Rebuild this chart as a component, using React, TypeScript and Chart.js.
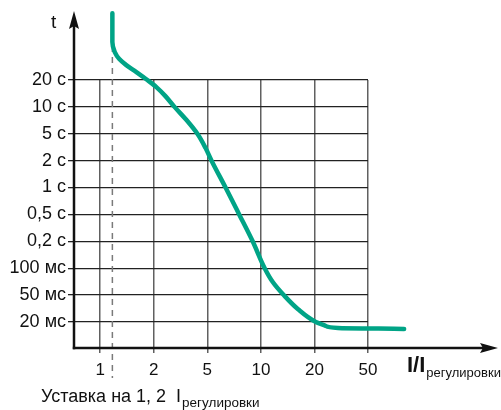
import React, { useEffect, useRef } from "react";
import { Chart, registerables } from "chart.js";

Chart.register(...registerables);

// ---- data ----
const X_TICK_VALUES = [1, 2, 5, 10, 20, 50];
const X_TICK_LABELS = ["1", "2", "5", "10", "20", "50"];
const Y_TICK_VALUES = [0.02, 0.05, 0.1, 0.2, 0.5, 1, 2, 5, 10, 20];
const Y_TICK_LABELS = ["20 мс", "50 мс", "100 мс", "0,2 с", "0,5 с", "1 с", "2 с", "5 с", "10 с", "20 с"];

// current multiple I/I_reg
const CURRENT = [1.17, 1.17, 1.207, 1.28, 1.401, 1.596, 1.84, 2.09, 2.44, 2.85, 3.5, 4.23, 4.85, 5.28, 6.33, 7.55, 8.99, 10.5, 11.66, 13.44, 16.12, 20.48, 24.3, 29.9, 79.8];
// trip time, seconds
const TIME = [140, 66.4, 51.3, 40.8, 33.2, 26.2, 20, 16.66, 13.2, 10, 7.12, 4.95, 3.07, 2, 1, 0.5, 0.2, 0.1, 0.07, 0.05, 0.0311, 0.02, 0.01804, 0.01714, 0.0167];

const SETTING = 1.17; // "Уставка на 1,2"

const X_TITLE = "I/I";
const X_TITLE_SUB = "регулировки";
const Y_TITLE = "t";
const NOTE = "Уставка на 1, 2  I";
const NOTE_SUB = "регулировки";

// position on a 1-2-5 grid (equal spacing between 1, 2, 5, 10 ...)
function pos125(v: number): number {
  const d = Math.floor(Math.log10(v) + 1e-9);
  const m = v / Math.pow(10, d);
  let f: number;
  if (m < 2) f = Math.log(m) / Math.log(2);
  else if (m < 5) f = 1 + Math.log(m / 2) / Math.log(2.5);
  else f = 2 + Math.log(m / 5) / Math.log(2);
  return 3 * d + f;
}
const xPos = (v: number) => pos125(v) - pos125(X_TICK_VALUES[0]);
const yPos = (v: number) => pos125(v) - pos125(Y_TICK_VALUES[0]);

const FONT = '"Liberation Sans", Arial, sans-serif';

const decor = {
  id: "decor",
  beforeDatasetsDraw(chart: any) {
    const { ctx, chartArea, scales } = chart;
    const x = scales.x.getPixelForValue(xPos(SETTING));
    ctx.save();
    ctx.strokeStyle = "#7a7a7a";
    ctx.lineWidth = 1.5;
    ctx.setLineDash([6, 5]);
    ctx.beginPath();
    ctx.moveTo(x, chartArea.top - 34);
    ctx.lineTo(x, chartArea.bottom + 30);
    ctx.stroke();
    ctx.restore();
  },
  afterDraw(chart: any) {
    const { ctx, chartArea } = chart;
    const L = chartArea.left;
    const B = chartArea.bottom;
    ctx.save();
    ctx.strokeStyle = "#111";
    ctx.fillStyle = "#111";
    ctx.lineWidth = 2.5;
    // y axis
    ctx.beginPath();
    ctx.moveTo(L, B + 1.2);
    ctx.lineTo(L, 24);
    ctx.stroke();
    ctx.beginPath();
    ctx.moveTo(L, 11);
    ctx.lineTo(L + 5, 29);
    ctx.lineTo(L, 26);
    ctx.lineTo(L - 5, 29);
    ctx.closePath();
    ctx.fill();
    // x axis
    ctx.beginPath();
    ctx.moveTo(L - 1.2, B);
    ctx.lineTo(488, B);
    ctx.stroke();
    ctx.beginPath();
    ctx.moveTo(498, B);
    ctx.lineTo(480, B - 5);
    ctx.lineTo(483, B);
    ctx.lineTo(480, B + 5);
    ctx.closePath();
    ctx.fill();

    // titles
    ctx.textBaseline = "alphabetic";
    ctx.textAlign = "left";
    ctx.font = `19px ${FONT}`;
    ctx.fillText(Y_TITLE, 51, 28);

    ctx.font = `bold 22px ${FONT}`;
    ctx.fillText(X_TITLE, 407, 372);
    const w1 = ctx.measureText(X_TITLE).width;
    ctx.font = `13px ${FONT}`;
    ctx.fillText(X_TITLE_SUB, 407 + w1 + 1, 377);

    ctx.font = `18px ${FONT}`;
    ctx.fillText(NOTE, 41, 402);
    const w2 = ctx.measureText(NOTE).width;
    ctx.font = `13.5px ${FONT}`;
    ctx.fillText(NOTE_SUB, 41 + w2 + 1, 407);
    ctx.restore();
  },
};

export default function App() {
  const ref = useRef<HTMLCanvasElement | null>(null);
  useEffect(() => {
    if (!ref.current) return;
    const points = CURRENT.map((c, i) => ({ x: xPos(c), y: yPos(TIME[i]) }));
    const chart = new Chart(ref.current, {
      type: "line",
      data: {
        datasets: [
          {
            data: points,
            indexAxis: "y",
            borderColor: "#00a486",
            borderWidth: 4.5,
            pointRadius: 0,
            pointHoverRadius: 0,
            cubicInterpolationMode: "monotone",
            capBezierPoints: false,
            fill: false,
            clip: false as any,
            borderCapStyle: "round",
            borderJoinStyle: "round",
          } as any,
        ],
      },
      options: {
        animation: false,
        responsive: false,
        maintainAspectRatio: false,
        layout: { padding: { left: 0, right: 133, top: 80, bottom: 0 } },
        plugins: { legend: { display: false }, tooltip: { enabled: false } },
        scales: {
          x: {
            type: "linear",
            min: -0.49,
            max: 5,
            afterBuildTicks: (s: any) => {
              s.ticks = X_TICK_VALUES.map((_, i) => ({ value: i }));
            },
            afterFit: (s: any) => {
              s.height = 62;
            },
            ticks: {
              autoSkip: false,
              maxRotation: 0,
              padding: 7,
              color: "#111",
              font: { family: FONT, size: 17 },
              callback: (_v: any, i: number) => X_TICK_LABELS[i],
            },
            grid: { color: "#606060", lineWidth: 1.5, tickLength: 5 },
            border: { display: false },
          },
          y: {
            type: "linear",
            min: -0.97,
            max: 9,
            afterBuildTicks: (s: any) => {
              s.ticks = Y_TICK_VALUES.map((_, i) => ({ value: i }));
            },
            afterFit: (s: any) => {
              s.width = 74;
            },
            ticks: {
              autoSkip: false,
              padding: 2,
              color: "#111",
              font: { family: FONT, size: 18 },
              callback: (_v: any, i: number) => Y_TICK_LABELS[i],
            },
            grid: { color: "#222", lineWidth: 1.3, tickLength: 6 },
            border: { display: false },
          },
        },
      },
      plugins: [decor],
    });
    return () => chart.destroy();
  }, []);
  return (
    <div style={{ position: "absolute", left: 0, top: 0, width: 501, height: 410, background: "#fff" }}>
      <canvas ref={ref} width={501} height={410} style={{ width: 501, height: 410, display: "block" }} />
    </div>
  );
}
